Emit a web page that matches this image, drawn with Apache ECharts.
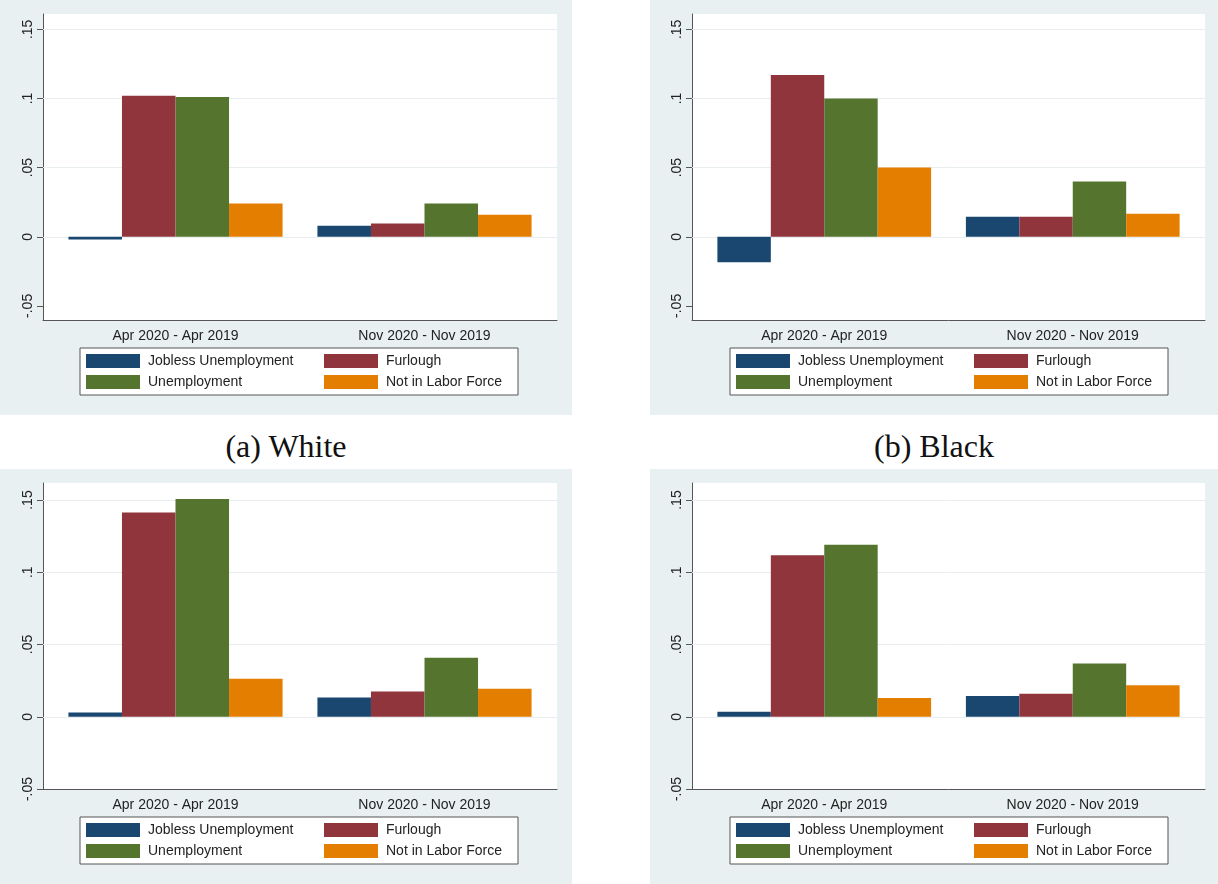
<!DOCTYPE html>
<html>
<head>
<meta charset="utf-8">
<script src="https://cdn.jsdelivr.net/npm/echarts@6/dist/echarts.min.js"></script>
<style>
  html, body { margin: 0; padding: 0; background: #fff; width: 1218px; height: 884px; overflow: hidden; }
  .panel { position: absolute; background: #e9f0f2; height: 415px; }
  .caption { position: absolute; top: 430px; font-family: "Liberation Serif", "DejaVu Serif", serif;
             font-size: 32px; line-height: 32px; color: #111; text-align: center; }
</style>
</head>
<body>
<div id="panelA" class="panel" style="left:0;top:0;width:572px"></div>
<div id="panelB" class="panel" style="left:650px;top:0;width:568px"></div>
<div class="caption" style="left:0;width:572px">(a) White</div>
<div class="caption" style="left:650px;width:568px">(b) Black</div>
<div id="panelC" class="panel" style="left:0;top:469px;width:572px"></div>
<div id="panelD" class="panel" style="left:650px;top:469px;width:568px"></div>

<script>
// Period comparisons on the x axis
const categories = ['Apr 2020 - Apr 2019', 'Nov 2020 - Nov 2019'];
const seriesNames = ['Jobless Unemployment', 'Furlough', 'Unemployment', 'Not in Labor Force'];

// Y axis ticks and their Stata-style labels
const yTickValues = [-0.05, 0, 0.05, 0.1, 0.15];
const yTickLabels = ['-.05', '0', '.05', '.1', '.15'];
const gridValues = [0, 0.05, 0.1, 0.15];

// (a) White
const joblessA = [-0.002, 0.008];
const furloughA = [0.102, 0.0096];
const unemploymentA = [0.101, 0.024];
const nilfA = [0.024, 0.016];

// (b) Black
const joblessB = [-0.0185, 0.0144];
const furloughB = [0.117, 0.0144];
const unemploymentB = [0.100, 0.040];
const nilfB = [0.050, 0.0166];

// lower-left group
const joblessC = [0.003, 0.0134];
const furloughC = [0.1413, 0.0175];
const unemploymentC = [0.1508, 0.0408];
const nilfC = [0.0263, 0.0194];

// lower-right group
const joblessD = [0.0034, 0.0144];
const furloughD = [0.1118, 0.016];
const unemploymentD = [0.119, 0.0369];
const nilfD = [0.013, 0.0218];

const COLORS = ['#1a476f', '#90353b', '#55752f', '#e37e00'];
const AXIS_COLOR = '#555';
const GRID_COLOR = '#e8eef0';
const TEXT_COLOR = '#222';
const FONT = '"Liberation Sans", Arial, sans-serif';

function tickLabel(v) {
  for (let i = 0; i < yTickValues.length; i++) {
    if (Math.abs(yTickValues[i] - v) < 1e-9) return yTickLabels[i];
  }
  return '';
}

function buildPanel(id, seriesValues, yMin, yMax, frameLeft, frameRight) {
  const chart = echarts.init(document.getElementById(id), null, { renderer: 'canvas' });
  const axisLineStyle = { color: AXIS_COLOR, width: 1 };
  const firstColumn = [seriesNames[0], seriesNames[2]];

  const bars = seriesNames.map((name, i) => ({
    name: name,
    type: 'bar',
    xAxisIndex: 1,
    yAxisIndex: 1,
    data: seriesValues[i],
    barGap: '0%',
    barCategoryGap: '14%',
    itemStyle: { color: COLORS[i] },
    emphasis: { disabled: true },
    z: 2
  }));

  chart.setOption({
    animation: false,
    backgroundColor: 'transparent',
    grid: [
      { left: frameLeft, right: frameRight, top: 14, bottom: 95, show: true,
        backgroundColor: '#fff', borderWidth: 0 },
      { left: frameLeft + 8, right: frameRight + 8, top: 14, bottom: 95 }
    ],
    xAxis: [
      { gridIndex: 0, type: 'value', min: 0, max: 1,
        axisLine: { show: true, onZero: false, lineStyle: axisLineStyle },
        axisTick: { show: false }, axisLabel: { show: false }, splitLine: { show: false } },
      { gridIndex: 1, type: 'category', data: categories,
        axisLine: { show: false }, axisTick: { show: false }, splitLine: { show: false },
        axisLabel: { margin: 9, fontSize: 14, color: TEXT_COLOR, fontFamily: FONT } }
    ],
    yAxis: [
      { gridIndex: 0, type: 'value', min: yMin, max: yMax,
        axisLine: { show: true, onZero: false, lineStyle: axisLineStyle },
        axisTick: { show: true, length: 6, customValues: yTickValues, lineStyle: axisLineStyle },
        axisLabel: { customValues: yTickValues, rotate: 90, margin: 8, fontSize: 14,
                     color: TEXT_COLOR, fontFamily: FONT, formatter: tickLabel,
                     showMinLabel: true, showMaxLabel: true },
        splitLine: { show: false } },
      { gridIndex: 1, type: 'value', min: yMin, max: yMax, show: false, splitLine: { show: false } }
    ],
    legend: {
      data: seriesNames,
      left: 80, top: 348, width: 440,
      orient: 'horizontal',
      icon: 'rect',
      itemWidth: 54, itemHeight: 14, itemGap: 7,
      padding: [6, 6, 6, 6],
      backgroundColor: '#fff', borderColor: '#555', borderWidth: 1,
      selectedMode: false,
      formatter: name => (firstColumn.includes(name) ? '{a|' : '{b|') + name + '}',
      textStyle: {
        fontFamily: FONT, fontSize: 14, color: TEXT_COLOR,
        rich: {
          a: { width: 169, padding: [0, 0, 0, 3], fontSize: 14, lineHeight: 14, fontFamily: FONT, color: TEXT_COLOR },
          b: { width: 126, padding: [0, 0, 0, 3], fontSize: 14, lineHeight: 14, fontFamily: FONT, color: TEXT_COLOR }
        }
      }
    },
    series: [
      {
        // carries the horizontal grid lines of the plot region
        type: 'line', xAxisIndex: 0, yAxisIndex: 0, data: [], silent: true,
        markLine: {
          silent: true, symbol: 'none', z: 1, animation: false,
          label: { show: false },
          lineStyle: { color: GRID_COLOR, width: 1, type: 'solid' },
          data: gridValues.map(v => ({ yAxis: v }))
        }
      }
    ].concat(bars)
  });
}

buildPanel('panelA', [joblessA, furloughA, unemploymentA, nilfA], -0.0602, 0.1611, 43, 15);
buildPanel('panelB', [joblessB, furloughB, unemploymentB, nilfB], -0.0602, 0.1611, 42, 13);
buildPanel('panelC', [joblessC, furloughC, unemploymentC, nilfC], -0.05, 0.1618, 43, 15);
buildPanel('panelD', [joblessD, furloughD, unemploymentD, nilfD], -0.05, 0.1618, 42, 13);
</script>
</body>
</html>
